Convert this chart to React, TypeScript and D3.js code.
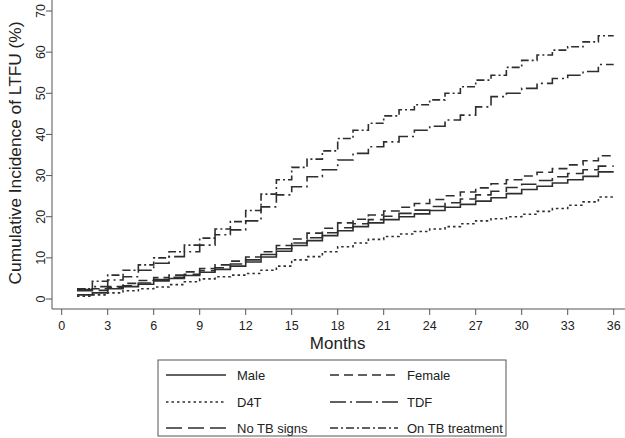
import React from "react";
import * as d3 from "d3";

const months = d3.range(1, 36); // step start times 1..35, curve extended to 36
const endMonth = 36;

const male = [1.0, 1.5, 2.5, 3.0, 3.6, 4.4, 5.0, 5.7, 6.5, 7.2, 8.0, 9.0, 10.2, 11.6, 13.0, 14.2, 15.4, 16.6, 17.6, 18.5, 19.3, 20.0, 20.7, 21.5, 22.3, 23.0, 23.8, 24.6, 25.6, 26.6, 27.4, 28.2, 29.0, 29.8, 30.9];
const female = [2.4, 2.5, 3.0, 3.8, 4.5, 5.2, 5.8, 6.6, 7.4, 8.3, 9.2, 10.2, 11.5, 13.0, 14.6, 16.0, 17.2, 18.5, 19.4, 20.4, 21.4, 22.3, 23.2, 24.2, 25.1, 26.0, 27.0, 28.0, 29.0, 29.9, 30.8, 31.7, 32.6, 33.6, 34.8];
const d4t = [0.7, 1.0, 1.5, 2.0, 2.5, 2.9, 3.5, 4.2, 4.9, 5.4, 5.8, 6.2, 7.0, 8.0, 9.5, 10.3, 11.5, 12.7, 13.6, 14.5, 15.2, 15.8, 16.4, 17.0, 17.6, 18.3, 19.0, 19.5, 20.0, 20.6, 21.3, 22.0, 22.8, 23.6, 24.8];
const tdf = [2.3, 3.0, 4.6, 5.4, 7.0, 8.7, 10.3, 11.5, 13.1, 15.6, 16.8, 19.0, 22.4, 25.3, 27.3, 29.7, 31.4, 33.8, 35.4, 37.0, 38.2, 39.5, 41.0, 42.0, 43.5, 44.7, 46.7, 49.2, 50.0, 51.2, 52.4, 53.6, 54.4, 55.3, 57.0];
const noTbSigns = [2.0, 2.1, 2.7, 3.2, 3.9, 4.7, 5.3, 6.0, 6.9, 7.6, 8.5, 9.5, 10.8, 12.2, 13.6, 14.9, 16.1, 17.3, 18.3, 19.3, 20.1, 20.8, 21.6, 22.5, 23.4, 24.3, 25.3, 26.2, 27.1, 27.9, 28.8, 29.7, 30.5, 31.4, 32.3];
const onTbTreatment = [2.5, 4.3, 5.8, 7.0, 8.3, 10.0, 11.5, 13.1, 14.8, 17.0, 18.8, 21.5, 25.5, 29.0, 32.0, 34.0, 36.0, 39.0, 41.0, 42.7, 44.5, 46.0, 47.2, 48.4, 50.0, 51.6, 53.2, 54.4, 56.3, 58.0, 59.3, 60.5, 61.3, 62.5, 64.0];

const xTicks = d3.range(0, 37, 3);
const yTicks = d3.range(0, 71, 10);

const seriesNames = ["Male", "Female", "D4T", "TDF", "No TB signs", "On TB treatment"];
const seriesValues = [male, female, d4t, tdf, noTbSigns, onTbTreatment];
const dashes = ["none", "9,5", "2.5,3", "16,4,2,4", "16,6", "8,3,2,3"];

const FONT = "'Liberation Sans', Arial, Helvetica, sans-serif";
const LINE = "#2e2e2e";
const AXIS = "#555555";
const TEXT = "#222222";

export default function App() {
  const x = d3.scaleLinear().domain([0, 36]).range([61.7, 613.7]);
  const y = d3.scaleLinear().domain([0, 70]).range([299, 11]);
  const line = d3
    .line<[number, number]>()
    .x((d) => x(d[0]))
    .y((d) => y(d[1]))
    .curve(d3.curveStepAfter);

  const axisX0 = 52;
  const axisY0 = 309;

  const legendItems = seriesNames.map((name, i) => ({
    name,
    dash: dashes[i],
    col: i % 2,
    row: Math.floor(i / 2),
  }));
  const rowY = [375, 402, 428];
  const colLine = [
    [166, 226],
    [330, 398],
  ];
  const colText = [237, 407];

  return (
    <svg
      width={625}
      height={438}
      style={{ position: "absolute", left: 0, top: 0, background: "#fff" }}
      fontFamily={FONT}
    >
      <rect x={0} y={0} width={625} height={438} fill="#fff" />
      {/* series */}
      {seriesValues.map((vals, i) => {
        const pts: [number, number][] = months.map((m, j) => [m, vals[j]]);
        pts.push([endMonth, vals[vals.length - 1]]);
        return (
          <path
            key={seriesNames[i]}
            d={line(pts) || ""}
            fill="none"
            stroke={LINE}
            strokeWidth={1.6}
            strokeDasharray={dashes[i]}
          />
        );
      })}
      {/* y axis */}
      <line x1={axisX0} x2={axisX0} y1={0} y2={axisY0} stroke={AXIS} strokeWidth={1} />
      {yTicks.map((t) => (
        <g key={"y" + t}>
          <line x1={axisX0 - 6} x2={axisX0} y1={y(t)} y2={y(t)} stroke={AXIS} strokeWidth={1} />
          <text
            transform={`translate(45,${y(t)}) rotate(-90)`}
            textAnchor="middle"
            fontSize={12.5}
            fill={TEXT}
          >
            {t}
          </text>
        </g>
      ))}
      <text
        transform={`translate(21,153) rotate(-90)`}
        textAnchor="middle"
        fontSize={17.3}
        fill={TEXT}
      >
        Cumulative Incidence of LTFU (%)
      </text>
      {/* x axis */}
      <line x1={axisX0} x2={625} y1={axisY0} y2={axisY0} stroke={AXIS} strokeWidth={1} />
      {xTicks.map((t) => (
        <g key={"x" + t}>
          <line x1={x(t)} x2={x(t)} y1={axisY0} y2={axisY0 + 6} stroke={AXIS} strokeWidth={1} />
          <text x={x(t)} y={329.5} textAnchor="middle" fontSize={12.5} fill={TEXT}>
            {t}
          </text>
        </g>
      ))}
      <text x={x(18)} y={348.5} textAnchor="middle" fontSize={17} fill={TEXT}>
        Months
      </text>
      {/* legend */}
      <rect x={158} y={360} width={348} height={76} fill="none" stroke={AXIS} strokeWidth={1} />
      {legendItems.map((it) => (
        <g key={it.name}>
          <line
            x1={colLine[it.col][0]}
            x2={colLine[it.col][1]}
            y1={rowY[it.row]}
            y2={rowY[it.row]}
            stroke={LINE}
            strokeWidth={1.6}
            strokeDasharray={it.dash}
          />
          <text x={colText[it.col]} y={rowY[it.row] + 4.5} fontSize={13} fill={TEXT}>
            {it.name}
          </text>
        </g>
      ))}
    </svg>
  );
}
